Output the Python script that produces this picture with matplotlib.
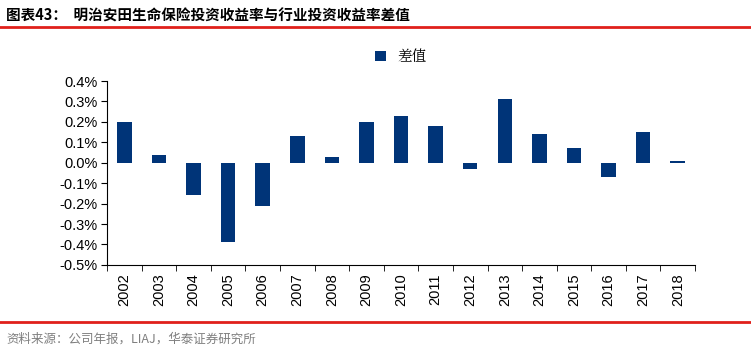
import numpy as np
import matplotlib.pyplot as plt
from matplotlib.ticker import FuncFormatter, FixedLocator

plt.rcParams['font.family'] = ['Liberation Sans', 'Noto Sans CJK SC', 'DejaVu Sans']

years = ['2002', '2003', '2004', '2005', '2006', '2007', '2008', '2009', '2010',
         '2011', '2012', '2013', '2014', '2015', '2016', '2017', '2018']
diff = [0.20, 0.04, -0.16, -0.39, -0.21, 0.13, 0.03, 0.20, 0.23,
        0.18, -0.03, 0.31, 0.14, 0.07, -0.07, 0.15, 0.01]

fig = plt.figure(figsize=(7.51, 3.57), dpi=100)
ax = fig.add_axes([0.1425, 0.258, 0.783, 0.515])

x = np.arange(len(years))
ax.bar(x, diff, width=0.42, color='#003478', label='差值')

ax.set_xlim(-0.5, len(years) - 0.5)
ax.set_ylim(-0.5, 0.4)
ax.set_yticks(np.round(np.arange(-0.5, 0.41, 0.1), 1))
ax.yaxis.set_major_formatter(FuncFormatter(lambda v, p: f'{round(v, 1) + 0.0:.1f}%'))
ax.tick_params(axis='y', labelsize=10.5, length=4, direction='out', pad=3)

ax.set_xticks(x)
ax.set_xticklabels(years, rotation=90, fontsize=10.5)
ax.tick_params(axis='x', length=0, pad=6)
ax.xaxis.set_minor_locator(FixedLocator(np.arange(-0.5, len(years), 1)))
ax.tick_params(axis='x', which='minor', length=4, direction='out')

for s in ['top', 'right']:
    ax.spines[s].set_visible(False)

ax.legend(loc='center', bbox_to_anchor=(0.5, 1.13), frameon=False,
          handlelength=0.7, handleheight=0.7,
          prop={'family': ['Noto Serif CJK SC', 'Noto Sans CJK SC'], 'size': 10.5})

# title and source
fig.text(0.008, 0.955, '图表43：  明治安田生命保险投资收益率与行业投资收益率差值',
         fontsize=10.5, fontweight='bold', family=['Noto Sans CJK SC'], va='center')
fig.add_artist(plt.Line2D([0, 1], [0.924, 0.924], color='#e0201b', lw=2))
fig.add_artist(plt.Line2D([0, 1], [0.098, 0.098], color='#e0201b', lw=2))
fig.text(0.008, 0.05, '资料来源：公司年报，LIAJ，华泰证券研究所',
         fontsize=9, color='#7f7f7f', family=['Noto Sans CJK SC'], va='center')

fig.savefig('out.png', dpi=100)
